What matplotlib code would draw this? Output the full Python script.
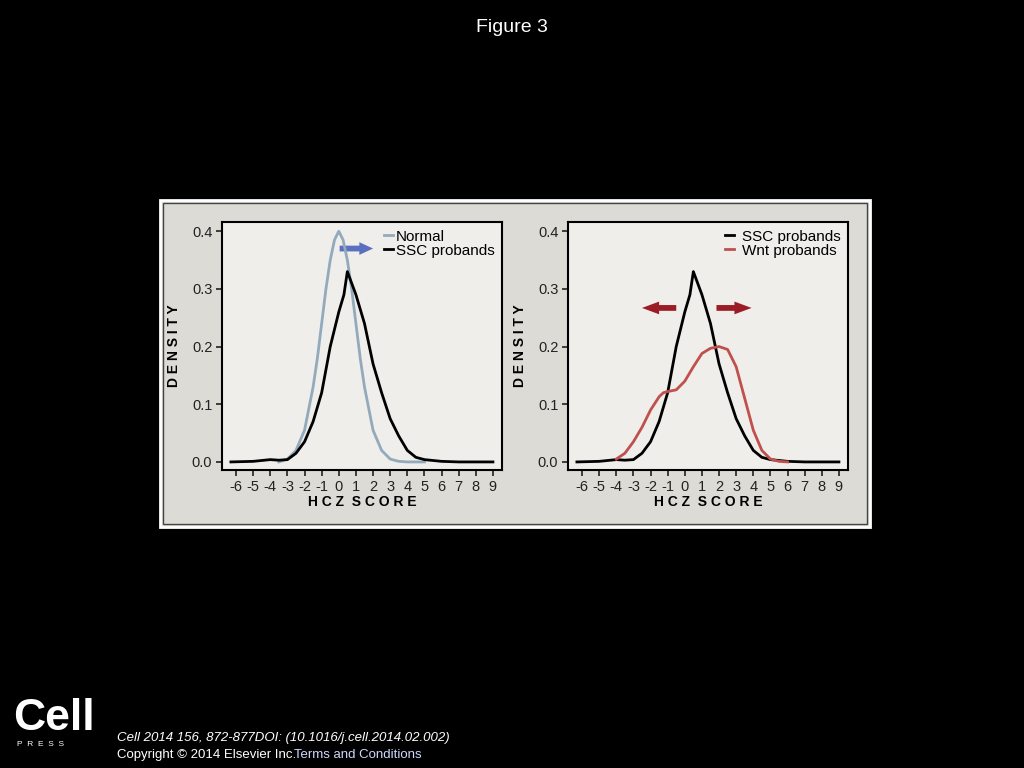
import matplotlib.pyplot as plt
from matplotlib.patches import Rectangle, FancyArrow

plt.rcParams['font.family'] = 'Liberation Sans'

# data
x_normal = [-3.5, -3, -2.5, -2, -1.5, -1.25, -1, -0.75, -0.5, -0.25, 0, 0.25, 0.5, 0.75, 1, 1.25, 1.5, 2, 2.5, 3, 3.5, 4, 5]
y_normal = [0.0, 0.005, 0.02, 0.055, 0.13, 0.18, 0.24, 0.30, 0.35, 0.385, 0.40, 0.385, 0.35, 0.30, 0.24, 0.18, 0.13, 0.055, 0.02, 0.005, 0.001, 0.0, 0.0]

x_ssc = [-6.3, -5, -4, -3.5, -3, -2.5, -2, -1.5, -1, -0.5, 0, 0.3, 0.5, 0.75, 1, 1.5, 2, 2.5, 3, 3.5, 4, 4.5, 5, 6, 7, 9]
y_ssc = [0.0, 0.001, 0.004, 0.003, 0.004, 0.015, 0.035, 0.07, 0.12, 0.2, 0.26, 0.29, 0.33, 0.31, 0.29, 0.24, 0.17, 0.12, 0.075, 0.045, 0.02, 0.008, 0.004, 0.001, 0.0, 0.0]

x_wnt = [-4, -3.5, -3, -2.5, -2, -1.5, -1.25, -1, -0.5, 0, 0.5, 1, 1.5, 2, 2.5, 3, 3.5, 4, 4.5, 5, 5.5, 6]
y_wnt = [0.005, 0.015, 0.035, 0.06, 0.09, 0.113, 0.12, 0.122, 0.125, 0.14, 0.165, 0.188, 0.197, 0.2, 0.195, 0.165, 0.11, 0.055, 0.02, 0.005, 0.001, 0.0]

xticks = list(range(-6, 10))
yticks = [0.0, 0.1, 0.2, 0.3, 0.4]

W, H = 1024, 768
fig = plt.figure(figsize=(10.24, 7.68), dpi=100, facecolor='black')

# grey panel with white border (behind the axes)
fig.patches.append(Rectangle((160 / W, 1 - 527 / H), 710 / W, 327 / H, transform=fig.transFigure,
                             facecolor='#dcdbd5', edgecolor='white', lw=2, zorder=-5))
fig.patches.append(Rectangle((163 / W, 1 - 524 / H), 704 / W, 321 / H, transform=fig.transFigure,
                             facecolor='none', edgecolor='#444444', lw=1, zorder=-4))


def make_ax(left):
    ax = fig.add_axes([left / W, 1 - 470 / H, 280 / W, 248 / H], facecolor='#efeeea')
    ax.set_xlim(-6.82, 9.53)
    ax.set_ylim(-0.014, 0.416)
    ax.set_xticks(xticks)
    ax.set_xticklabels([str(t) for t in xticks])
    ax.set_yticks(yticks)
    ax.set_yticklabels(['%.1f' % t for t in yticks])
    ax.tick_params(labelsize=10.5, length=4, width=1.2, colors='#222222', pad=3)
    for s in ax.spines.values():
        s.set_linewidth(1.5)
    ax.set_xlabel('H C Z  S C O R E', fontsize=10, fontweight='bold', labelpad=1)
    ax.set_ylabel('D E N S I T Y', fontsize=10, fontweight='bold', labelpad=8)
    return ax


ax1 = make_ax(222)
ax1.plot(x_normal, y_normal, color='#92aabb', lw=2, label='Normal')
ax1.plot(x_ssc, y_ssc, color='black', lw=2, label='SSC probands')
ax1.legend(loc='upper right', frameon=False, fontsize=11, handlelength=0.6, handletextpad=0.15,
           borderaxespad=0.1, labelspacing=0.0)
ax1.add_patch(FancyArrow(0.05, 0.37, 1.95, 0, width=0.01, head_width=0.022, head_length=0.8,
                         length_includes_head=True, color='#5b6fc0', ec='none'))

ax2 = make_ax(568)
ax2.plot(x_ssc, y_ssc, color='black', lw=2, label='SSC probands')
ax2.plot(x_wnt, y_wnt, color='#c0504d', lw=2, label='Wnt probands')
ax2.legend(loc='upper right', frameon=False, fontsize=11, handlelength=0.6, handletextpad=0.5,
           borderaxespad=0.1, labelspacing=0.0)
ax2.add_patch(FancyArrow(-0.5, 0.267, -2.0, 0, width=0.01, head_width=0.022, head_length=1.0,
                         length_includes_head=True, color='#9b1c24', ec='none'))
ax2.add_patch(FancyArrow(1.85, 0.267, 2.05, 0, width=0.01, head_width=0.022, head_length=1.0,
                         length_includes_head=True, color='#9b1c24', ec='none'))

fig.text(0.5, 1 - 27 / H, 'Figure 3', color='white', fontsize=14, ha='center', va='center')
fig.text(13 / W, 1 - 718 / H, 'Cell', color='white', fontsize=32, fontweight='bold', va='center')
fig.text(17 / W, 1 - 745 / H, 'P  R  E  S  S', color='white', fontsize=6, va='center')
fig.text(117 / W, 1 - 738 / H, 'Cell 2014 156, 872-877DOI: (10.1016/j.cell.2014.02.002)',
         color='white', fontsize=9.5, va='center', style='italic')
fig.text(117 / W, 1 - 755 / H, 'Copyright \u00a9 2014 Elsevier Inc.', color='white', fontsize=9.5, va='center')
fig.text(294 / W, 1 - 755 / H, 'Terms and Conditions', color='#cfd8ff', fontsize=9.5, va='center')

fig.savefig('out.png', dpi=100, facecolor='black')
